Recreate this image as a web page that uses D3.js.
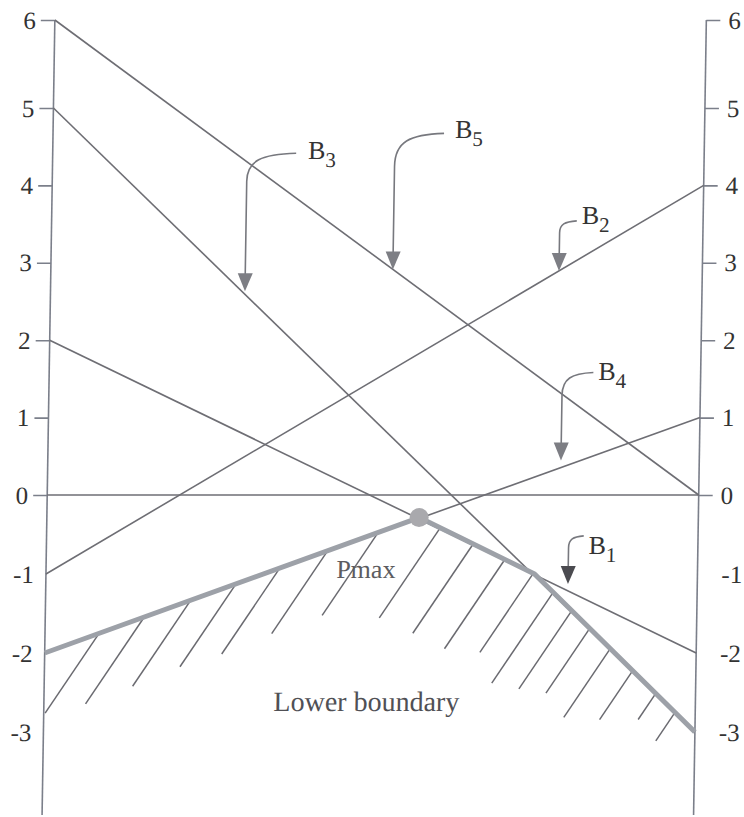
<!DOCTYPE html>
<html>
<head>
<meta charset="utf-8">
<script src="https://cdn.jsdelivr.net/npm/d3@7"></script>
<style>
  html, body { margin: 0; padding: 0; background: #fff; }
  svg { display: block; }
  svg text { font-family: "Liberation Serif", "Tinos", "DejaVu Serif", "Noto Serif", serif; }
</style>
</head>
<body>
<svg id="chart" width="744" height="817"></svg>
<script>
// Constraint lines: value on the left scale and value on the right scale
const lineNames   = ["B1", "B2", "B3", "B4", "B5"];
const leftValues  = [2, -1, 5, -2, 6];
const rightValues = [-2, 4, -3, 1, 0];

// Lines whose lower envelope forms the boundary
const boundaryLines = ["B1", "B3", "B4"];

// Scale ticks (same on both sides)
const tickValues = [6, 5, 4, 3, 2, 1, 0, -1, -2, -3];

// Where each label's arrow lands, as a fraction of the way from the left scale to the right one
const arrowAt = [0.8015, 0.780, 0.2985, 0.7877, 0.525];

// Hatching under the boundary: position along the span and depth in scale units
const hatchAt    = [0.083, 0.152, 0.223, 0.292, 0.359, 0.432, 0.509, 0.604, 0.655, 0.704,
                    0.748, 0.779, 0.808, 0.836, 0.868, 0.903, 0.939, 0.969];
const hatchDepth = [1.01, 1.10, 1.09, 1.05, 1.09, 1.05, 1.05, 1.14, 1.13, 1.13,
                    1.00, 1.15, 0.99, 0.82, 0.87, 0.62, 0.33, 0.36];

// ---- layout & style ----
const W = 744, H = 817;
const axisBottom = 815;
const axisColor = "#7b7f8a";
const lineColor = "#6e6e74";
const textColor = "#333";
const serif = "'Liberation Serif', 'Tinos', 'DejaVu Serif', 'Noto Serif', serif";

const x = d3.scaleLinear().domain([0, 1]).range([48.5, 700]);
const y = d3.scaleLinear().domain([-3, 0, 5, 6]).range([732, 495, 108, 20]);

// leader geometry for each label, relative to the arrow tip (px)
const leaderStyle = {
  B1: { gap: 7, shaft: 36,  hook: [15, -48],  label: [20, -30], head: "#4b4b50" },
  B2: { gap: 0, shaft: 38,  hook: [17, -50],  label: [22, -47], head: "#7d7e84" },
  B3: { gap: 3, shaft: 110, hook: [49, -138], label: [61, -132], head: "#7d7e84" },
  B4: { gap: 7, shaft: 65,  hook: [31, -88],  label: [36, -81], head: "#7d7e84" },
  B5: { gap: 0, shaft: 103, hook: [49, -136], label: [60, -131], head: "#7d7e84" }
};

const svg = d3.select("#chart");
svg.append("rect").attr("width", W).attr("height", H).attr("fill", "#fff");

// slight shear of the whole drawing
const g = svg.append("g")
  .attr("transform", "translate(0,415) skewX(-0.92) translate(0,-415)")
  .attr("font-family", serif);

// ---- helpers ----
const lines = lineNames.map((name, i) => ({
  name, left: leftValues[i], right: rightValues[i]
}));
const byName = Object.fromEntries(lines.map(l => [l.name, l]));
const valueAt = (l, t) => l.left + (l.right - l.left) * t;
const pixelAt = (l, t) => {
  const x0 = x(0), y0 = y(l.left), x1 = x(1), y1 = y(l.right);
  return [x0 + (x1 - x0) * t, y0 + (y1 - y0) * t];
};

// ---- vertical scales ----
function styleAxis(sel, side) {
  sel.attr("font-family", serif).attr("font-size", 25);
  sel.select(".domain").remove();
  sel.selectAll(".tick line").attr("stroke", axisColor).attr("stroke-width", 1.6);
  sel.selectAll(".tick text")
    .attr("fill", textColor)
    .attr("font-family", serif)
    .attr("font-size", 25);
  const neg = sel.selectAll(".tick").filter(d => d < 0);
  neg.select("line").remove();
  neg.select("text").attr("x", side === "left" ? -12 : 24);
}

g.append("g")
  .attr("transform", `translate(${x(0)},0)`)
  .call(d3.axisLeft(y).tickValues(tickValues).tickSize(14).tickSizeOuter(0)
        .tickPadding(5).tickFormat(d => String(d)))
  .call(s => styleAxis(s, "left"));

g.append("g")
  .attr("transform", `translate(${x(1)},0)`)
  .call(d3.axisRight(y).tickValues(tickValues).tickSize(14).tickSizeOuter(0)
        .tickPadding(8).tickFormat(d => String(d)))
  .call(s => styleAxis(s, "right"));

[0, 1].forEach(t => {
  g.append("line")
    .attr("x1", x(t)).attr("x2", x(t))
    .attr("y1", y(6)).attr("y2", axisBottom)
    .attr("stroke", axisColor).attr("stroke-width", 1.6);
});

// zero reference line
g.append("line")
  .attr("x1", x(0)).attr("x2", x(1))
  .attr("y1", y(0)).attr("y2", y(0))
  .attr("stroke", lineColor).attr("stroke-width", 1.6);

// ---- constraint lines ----
g.selectAll("line.constraint")
  .data(lines)
  .join("line")
  .attr("class", "constraint")
  .attr("x1", d => x(0)).attr("y1", d => y(d.left))
  .attr("x2", d => x(1)).attr("y2", d => y(d.right))
  .attr("stroke", lineColor).attr("stroke-width", 1.6);

// ---- lower boundary (lower envelope of the boundary lines) ----
const bLines = boundaryLines.map(n => byName[n]);
const breaks = [0, 1];
for (let i = 0; i < bLines.length; i++) {
  for (let j = i + 1; j < bLines.length; j++) {
    const a = bLines[i], b = bLines[j];
    const da = a.right - a.left, db = b.right - b.left;
    if (da !== db) {
      const t = (b.left - a.left) / (da - db);
      if (t > 0 && t < 1) breaks.push(t);
    }
  }
}
breaks.sort((a, b) => a - b);
const envelope = t => d3.min(bLines, l => valueAt(l, t));
const boundary = breaks.map(t => ({ t, v: envelope(t) }));
const peak = boundary.reduce((a, b) => (b.v > a.v ? b : a));

// hatching
const slant = 0.66; // horizontal run per unit of drop (px/px)
const hatch = hatchAt.map((t, i) => {
  const v = envelope(t);
  const xs = x(t), ys = y(v);
  let ye = y(v - hatchDepth[i]);
  let xe = xs - slant * (ye - ys);
  if (xe < x(0)) {               // stop at the left scale
    const k = (xs - x(0)) / (xs - xe);
    xe = x(0);
    ye = ys + (ye - ys) * k;
  }
  return { xs, ys, xe, ye };
});
g.selectAll("line.hatch")
  .data(hatch)
  .join("line")
  .attr("class", "hatch")
  .attr("x1", d => d.xs).attr("y1", d => d.ys)
  .attr("x2", d => d.xe).attr("y2", d => d.ye)
  .attr("stroke", "#6a6a70").attr("stroke-width", 1.5);

g.append("path")
  .datum(boundary)
  .attr("d", d3.line().x(d => x(d.t)).y(d => y(d.v)))
  .attr("fill", "none")
  .attr("stroke", "#9da1a8")
  .attr("stroke-width", 5)
  .attr("stroke-linejoin", "round");

// optimum point
g.append("circle")
  .attr("cx", x(peak.t)).attr("cy", y(peak.v)).attr("r", 9.5)
  .attr("fill", "#a9a9ad");

g.append("text")
  .attr("x", x(peak.t) - 82).attr("y", y(peak.v) + 60)
  .attr("fill", "#5c5c60")
  .attr("font-size", 26)
  .text("Pmax");

g.append("text")
  .attr("x", x(0.495)).attr("y", 711)
  .attr("text-anchor", "middle")
  .attr("fill", "#505055")
  .attr("font-size", 28)
  .text("Lower boundary");

// ---- labels with hooked arrows ----
lines.forEach((l, i) => {
  const s = leaderStyle[l.name];
  const [px, py] = pixelAt(l, arrowAt[i]);
  const tx = px, ty = py - s.gap;
  const headH = 18, headW = 7.5;
  const topY = ty - s.shaft;
  const hx = tx + s.hook[0], hy = ty + s.hook[1];
  const p = d3.path();
  p.moveTo(tx, ty - headH + 1);
  p.lineTo(tx, topY);
  p.bezierCurveTo(tx, hy + (topY - hy) * 0.25, tx + (hx - tx) * 0.3, hy + 1, hx, hy);
  g.append("path")
    .attr("d", p.toString())
    .attr("fill", "none")
    .attr("stroke", "#77787e").attr("stroke-width", 1.6);
  g.append("path")
    .attr("d", `M${tx},${ty}L${tx - headW},${ty - headH}L${tx + headW},${ty - headH}Z`)
    .attr("fill", s.head);
  const t = g.append("text")
    .attr("x", tx + s.label[0]).attr("y", ty + s.label[1])
    .attr("fill", textColor)
    .attr("font-size", 26);
  t.append("tspan").text(l.name.charAt(0));
  t.append("tspan").attr("dy", 8).attr("font-size", 21).text(l.name.slice(1));
});
</script>
</body>
</html>
